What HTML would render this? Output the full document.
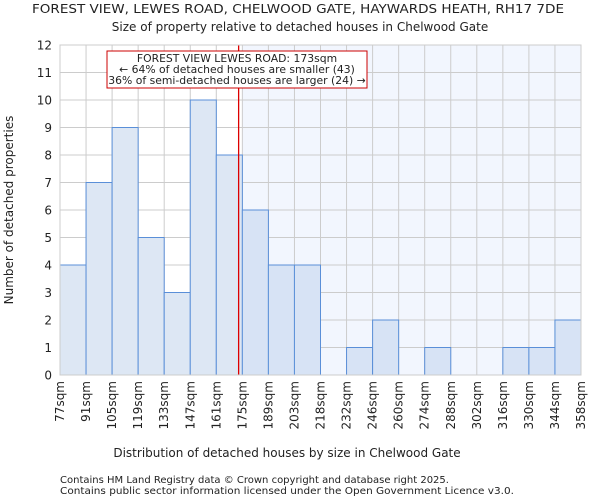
<!DOCTYPE html>
<html><head><meta charset="utf-8"><style>
body{margin:0;background:#fff;font-family:"DejaVu Sans","Liberation Sans",sans-serif}
svg text{font-family:"DejaVu Sans","Liberation Sans",sans-serif;fill:#222}
</style></head><body>
<svg id="c" width="600" height="500">
<text x="298" y="13" text-anchor="middle" font-size="12.2" textLength="532" lengthAdjust="spacingAndGlyphs">FOREST VIEW, LEWES ROAD, CHELWOOD GATE, HAYWARDS HEATH, RH17 7DE</text>
<text x="300" y="31" text-anchor="middle" font-size="12">Size of property relative to detached houses in Chelwood Gate</text>
<g id="plot"></g>
<text x="287" y="457" text-anchor="middle" font-size="12">Distribution of detached houses by size in Chelwood Gate</text>
<text transform="translate(13,210) rotate(-90)" text-anchor="middle" font-size="12">Number of detached properties</text>
<text x="60" y="483" font-size="10">Contains HM Land Registry data © Crown copyright and database right 2025.</text>
<text x="60" y="494" font-size="10" textLength="454" lengthAdjust="spacingAndGlyphs">Contains public sector information licensed under the Open Government Licence v3.0.</text>
</svg>
<script>
const binLabels=["77sqm","91sqm","105sqm","119sqm","133sqm","147sqm","161sqm","175sqm","189sqm","203sqm","218sqm","232sqm","246sqm","260sqm","274sqm","288sqm","302sqm","316sqm","330sqm","344sqm","358sqm"];
const binEdges=[77,91,105,119,133,147,161,175,189,203,218,232,246,260,274,288,302,316,330,344,358];
const counts=[4,7,9,5,3,10,8,6,4,4,0,1,2,0,1,0,0,1,1,2];
const yTicks=[0,1,2,3,4,5,6,7,8,9,10,11,12];
const marker=173;
const NS="http://www.w3.org/2000/svg";
const L=60,R=581,T=45,B=375,nb=counts.length;
const bw=(R-L)/nb;
function xIdx(i){return L+i*bw;}
function xVal(v){for(let i=0;i<nb;i++){if(v<=binEdges[i+1])return xIdx(i)+bw*(v-binEdges[i])/(binEdges[i+1]-binEdges[i]);}return R;}
function y(v){return B-(B-T)*v/12;}
const g=document.getElementById('plot');
function mk(t,a){const e=document.createElementNS(NS,t);for(const k in a)e.setAttribute(k,a[k]);g.appendChild(e);return e;}
let mi=0;while(mi<nb&&binEdges[mi+1]<marker)mi++;
const shadeX=xIdx(mi+1);
let e=mk('rect',{x:shadeX,y:T,width:R-shadeX,height:B-T,fill:'#f2f6fe'});


yTicks.forEach(t=>{let l=mk('line',{x1:L,x2:R,y1:y(t),y2:y(t),stroke:'#ccc','stroke-width':1});


let tx=mk('text',{x:L-8,y:y(t)+4.5,'text-anchor':'end','font-size':12});tx.textContent=t;

});
binLabels.forEach((lb,i)=>{const x=xIdx(i);let l=mk('line',{x1:x,x2:x,y1:T,y2:B,stroke:'#ccc','stroke-width':1});


let tx=mk('text',{transform:`translate(${x+4},${B+6}) rotate(-90)`,'text-anchor':'end','font-size':12});tx.textContent=lb;

});
counts.forEach((c,i)=>{if(c<=0)return;let r=mk('rect',{x:xIdx(i),y:y(c),width:bw,height:B-y(c),fill:i>mi?'#d7e3f5':'#dde7f4',stroke:'#5a8fd8','stroke-width':1});

});
const mx=xVal(marker);
e=mk('line',{x1:mx,x2:mx,y1:T,y2:B,stroke:'#d00','stroke-width':1.3});


e=mk('rect',{x:107,y:51,width:260,height:37,fill:'#fff',stroke:'#c00','stroke-width':1});


["FOREST VIEW LEWES ROAD: 173sqm","← 64% of detached houses are smaller (43)","36% of semi-detached houses are larger (24) →"].forEach((s,i)=>{let t=mk('text',{x:237,y:62+i*11,'text-anchor':'middle','font-size':10.8});t.textContent=s;

});
e=mk('rect',{x:L,y:T,width:R-L,height:B-T,fill:'none',stroke:'#ccc'});


</script>
</body></html>
